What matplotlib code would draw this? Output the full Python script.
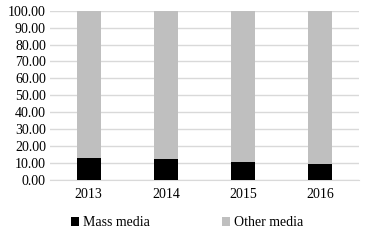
import numpy as np
import matplotlib.pyplot as plt

plt.rcParams['font.family'] = ['Liberation Serif', 'DejaVu Serif']

years = ['2013', '2014', '2015', '2016']
mass_media = [13.2, 12.2, 10.4, 9.2]
other_media = [100 - v for v in mass_media]

fig = plt.figure(figsize=(3.74, 2.42), dpi=100)
ax = fig.add_axes([0.134, 0.256, 0.826, 0.700])

x = np.arange(len(years))
w = 0.31
ax.bar(x, mass_media, w, color='black', label='Mass media', zorder=3)
ax.bar(x, other_media, w, bottom=mass_media, color='#bfbfbf', label='Other media', zorder=3)

ax.set_ylim(0, 100)
ax.set_xlim(-0.5, 3.5)
ax.set_yticks(np.arange(0, 101, 10))
ax.set_yticklabels(['%.2f' % v for v in np.arange(0, 101, 10)])
ax.set_xticks(x)
ax.set_xticklabels(years)
ax.yaxis.grid(True, color='#d9d9d9', linewidth=1, zorder=0)
for s in ['top', 'right', 'left']:
    ax.spines[s].set_visible(False)
ax.spines['bottom'].set_color('#d9d9d9')
ax.tick_params(axis='both', length=0, labelsize=10, pad=3)
ax.tick_params(axis='x', pad=6)

fig.legend(loc='lower center', bbox_to_anchor=(0.5, 0.0), ncol=2, frameon=False,
           fontsize=10, handlelength=0.6, handleheight=0.6, handletextpad=0.25,
           columnspacing=5.2)

fig.savefig('out.png', dpi=100)
